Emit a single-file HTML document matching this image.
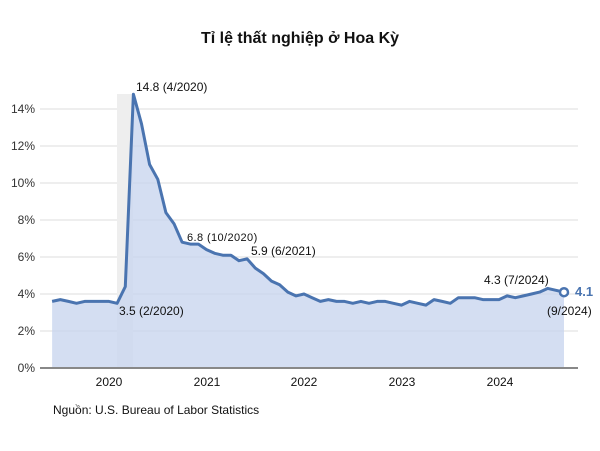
<!DOCTYPE html>
<html><head><meta charset="utf-8"><style>
body{margin:0;background:#fff;}
svg{display:block;font-family:"Liberation Sans",Arial,sans-serif;}
</style></head><body>
<svg id="s" width="600" height="451" viewBox="0 0 600 451">
<text x="300" y="43" text-anchor="middle" font-size="16" font-weight="bold" fill="#111">Tỉ lệ thất nghiệp ở Hoa Kỳ</text>
<g id="grid" stroke="#dcdcdc" stroke-width="1"></g>
<g id="yl" font-size="12" fill="#333" text-anchor="end"></g>
<rect x="117" y="94" width="16" height="274" fill="#eeeeee"/>
<path id="area" fill="#c9d6ef" fill-opacity="0.8"/>
<line x1="40" y1="368" x2="578" y2="368" stroke="#888" stroke-width="2"/>
<path id="line" fill="none" stroke="#4a74b0" stroke-width="3" stroke-linejoin="round"/>
<circle cx="564" cy="292.2" r="4" fill="#fff" stroke="#4a74b0" stroke-width="2.5"/>
<g font-size="12" fill="#111">
<text x="136" y="91">14.8 (4/2020)</text>
<text x="187" y="241" font-size="11" letter-spacing="0.4">6.8 (10/2020)</text>
<text x="251" y="255">5.9 (6/2021)</text>
<text x="119" y="315">3.5 (2/2020)</text>
<text x="484" y="284">4.3 (7/2024)</text>
<text x="547" y="315">(9/2024)</text>
<text x="575" y="296" font-weight="bold" fill="#4a74b0" font-size="13">4.1</text>
<text x="109" y="386" text-anchor="middle">2020</text>
<text x="207" y="386" text-anchor="middle">2021</text>
<text x="304" y="386" text-anchor="middle">2022</text>
<text x="402" y="386" text-anchor="middle">2023</text>
<text x="500" y="386" text-anchor="middle">2024</text>
<text x="53" y="414">Nguồn: U.S. Bureau of Labor Statistics</text>
</g>
</svg>
<script>
var d=[3.6,3.7,3.6,3.5,3.6,3.6,3.6,3.6,3.5,4.4,14.8,13.2,11.0,10.2,8.4,7.8,6.8,6.7,6.7,6.4,6.2,6.1,6.1,5.8,5.9,5.4,5.1,4.7,4.5,4.1,3.9,4.0,3.8,3.6,3.7,3.6,3.6,3.5,3.6,3.5,3.6,3.6,3.5,3.4,3.6,3.5,3.4,3.7,3.6,3.5,3.8,3.8,3.8,3.7,3.7,3.7,3.9,3.8,3.9,4.0,4.1,4.3,4.2,4.1];
function X(i){return 109+8.125*(i-7);}function Y(v){return 368-v*18.5;}
var p=d.map(function(v,i){return (i?'L':'M')+X(i).toFixed(1)+' '+Y(v).toFixed(1);}).join(' ');
document.getElementById('line').setAttribute('d',p);
document.getElementById('area').setAttribute('d',p+' L'+X(d.length-1)+' 368 L'+X(0)+' 368 Z');
var g=document.getElementById('grid'),yl=document.getElementById('yl'),ns='http://www.w3.org/2000/svg';
for(var k=2;k<=14;k+=2){var l=document.createElementNS(ns,'line');l.setAttribute('x1',40);l.setAttribute('x2',578);l.setAttribute('y1',Y(k));l.setAttribute('y2',Y(k));g.appendChild(l);}
for(var k=0;k<=14;k+=2){var t=document.createElementNS(ns,'text');t.setAttribute('x',35);t.setAttribute('y',Y(k)+4);t.textContent=k+'%';yl.appendChild(t);}
</script>
</body></html>
